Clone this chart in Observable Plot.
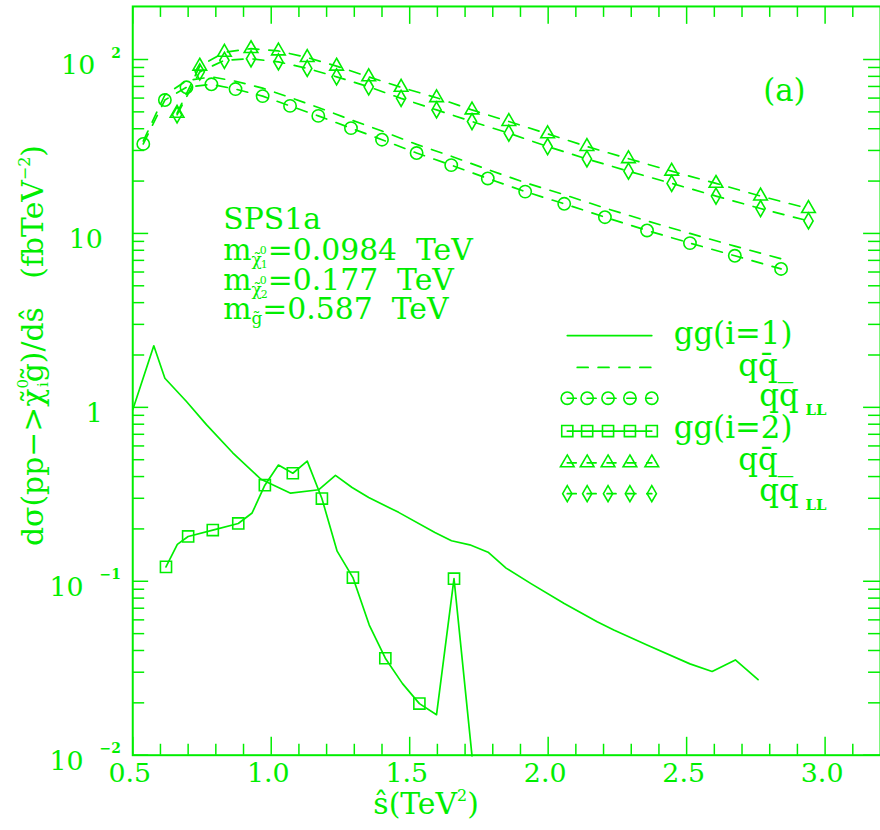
<!DOCTYPE html>
<html><head><meta charset="utf-8">
<script src="https://cdn.jsdelivr.net/npm/d3@7"></script>
<script src="https://cdn.jsdelivr.net/npm/@observablehq/plot@0.6"></script>
<style>html,body{margin:0;padding:0;overflow:hidden;background:#fff}</style>
</head><body><div id="chart"></div>
<script>
// ---------------- data ----------------
// gg (i=1) : solid line
const gg1X = [0.500,0.576,0.616,0.694,0.766,0.861,0.963,1.070,1.172,1.232,1.292,1.352,1.460,1.591,1.651,1.717,1.783,1.848,1.938,2.058,2.177,2.237,2.357,2.512,2.592,2.676,2.758];
const gg1Y = [0.968,2.26,1.47,1.08,0.796,0.548,0.386,0.321,0.336,0.406,0.346,0.303,0.249,0.191,0.171,0.162,0.147,0.119,0.0969,0.0745,0.0585,0.0525,0.043,0.0335,0.0303,0.0353,0.0272];
// gg (i=2) : solid line with squares
const gg2X = [0.620,0.661,0.700,0.789,0.881,0.931,0.977,1.026,1.078,1.130,1.183,1.238,1.295,1.354,1.412,1.474,1.535,1.597,1.660,1.725];
const gg2Y = [0.121,0.163,0.181,0.197,0.215,0.247,0.357,0.466,0.418,0.491,0.299,0.149,0.105,0.056,0.0361,0.0258,0.0198,0.0171,0.1035,0.0099];
const gg2MarkX = [0.620,0.700,0.789,0.881,0.977,1.078,1.183,1.295,1.412,1.535,1.660];
const gg2MarkY = [0.121,0.181,0.197,0.215,0.357,0.418,0.299,0.105,0.0361,0.0198,0.1035];
// i=1 quark channels
const q1X = [0.538,0.616,0.694,0.784,0.871,0.969,1.068,1.170,1.288,1.400,1.525,1.650,1.782,1.917,2.058,2.205,2.357,2.512,2.674,2.841];
const qqbar1Y = [34.0,62.5,75.5,79.5,75.0,68.5,60.5,53.0,45.0,38.8,32.5,27.8,23.3,19.6,16.7,14.0,11.8,10.0,8.45,7.15];
const qqLL1Y  = [32.7,58.5,69.2,72.0,67.6,61.6,54.1,47.4,40.3,34.6,29.0,24.7,20.7,17.4,14.8,12.4,10.4,8.8,7.44,6.25];
// i=2 quark channels
const q2X = [0.660,0.742,0.831,0.927,1.026,1.130,1.236,1.352,1.469,1.597,1.725,1.858,1.998,2.140,2.290,2.446,2.606,2.767,2.940];
const qqbar2Y = [49.1,91.6,110,115.5,112,102.6,91.6,79.5,69.2,60.3,51.3,44.0,37.4,31.6,26.9,22.8,19.4,16.4,13.9];
const qqLL2Y  = [48.1,84.9,99,101,96.9,88.9,79.5,69.7,59.8,51.3,44.0,37.7,31.6,26.8,22.8,19.4,16.4,13.9,11.8];
// axes ticks & labels
const xMajor = [0.5,1.0,1.5,2.0,2.5,3.0];
const xTickLabels = ["0.5","1.0","1.5","2.0","2.5","3.0"];
const yMajor = [0.01,0.1,1,10,100];
const yTickLabels = ["10^−2","10^−1","1","10","10^2"];
const legendLabels = ["gg(i=1)","qq\u0304_","qq|LL","gg(i=2)","qq\u0304_","qq|LL"];

// ---------------- layout ----------------
const GREEN = "#00ee00";
const FONT = "DejaVu Serif";
const W = 885, H = 830, ML = 133, MR = 0, MT = 6, MB = 71;
const X0 = 0.5, X1 = 3.2, Y0 = 0.01, Y1 = Math.pow(10, 2.305);
const IW = W - ML - MR, IH = H - MT - MB;
const px2x = px => X0 + (px - ML) / IW * (X1 - X0);
const py2y = py => Math.pow(10, Math.log10(Y1) - (py - MT) / IH * Math.log10(Y1 / Y0));

const xMinor = d3.range(5, 33).map(i => i / 10).filter(v => !xMajor.some(m => Math.abs(m - v) < 1e-9) && v < X1);
const yMinor = [];
for (let d = -2; d <= 2; d++) for (let k = 2; k <= 9; k++) { const v = k * Math.pow(10, d); if (v < Y1 * 0.98) yMinor.push(v); }

const tick = {stroke: GREEN, strokeWidth: 1.5};
const line = {stroke: GREEN, strokeWidth: 1.7};
const DASH = "11,10";
const dotStyle = {stroke: GREEN, strokeWidth: 1.6, fill: "none"};
const R = {circle: 6.2, square: 6.3, triangle: 5.1, diamond: 4.9};

// rich text pieces: [text, size, baselineShift, dx, weight]
const RICH = {};
const ann = [];
function addText(key, parts, px, py, opts) { RICH[key] = parts; ann.push({key, x: px2x(px), y: py2y(py), ...opts}); }

addText("ytitle", [["dσ(pp−>",30,0],["χ\u0303",30,0],["0",15,-15,0],["i",15,5,-8],["g\u0303",30,0],[")/dŝ\u00a0\u00a0\u00a0(fbTeV",30,0],["−2",16,-13],[")",30,0]], 43, 347, {anchor: "middle", rotate: -90});
addText("xtitle", [["ŝ(TeV",30,0],["2",16,-13],[")",30,0]], 428, 818, {anchor: "middle"});
addText("sps", [["SPS1a",30,0]], 224, 230, {anchor: "start"});
addText("m1", [["m",30,0],["χ\u0303",17,5],["0",11,-6,-2],["1",11,8,-6],["=0.0984\u00a0\u00a0TeV",30,0]], 224, 261, {anchor: "start"});
addText("m2", [["m",30,0],["χ\u0303",17,5],["0",11,-6,-2],["2",11,8,-6],["=0.177\u00a0\u00a0TeV",30,0]], 224, 291, {anchor: "start"});
addText("m3", [["m",30,0],["g\u0303",17,5],["=0.587\u00a0\u00a0TeV",30,0]], 224, 320, {anchor: "start"});
addText("panel", [["(a)",31,0]], 767, 101, {anchor: "start"});

// legend
const rowY = [337, 369, 400, 433, 465, 496];
const textX = [677, 742, 763, 677, 742, 763];
const textBase = [345, 378, 408, 440, 472, 503];
legendLabels.forEach((lab, i) => {
  let parts;
  if (lab.includes("|")) { const [a, b] = lab.split("|"); parts = [[a,31,0],[b,15,9,7,"bold"]]; }
  else parts = [[lab,31,0]];
  addText("leg" + i, parts, textX[i], textBase[i], {anchor: "start"});
});
const mkX = [570, 590, 611, 633, 655].map(px2x);
const legSeg = (i, x0px) => ({x: [px2x(x0px), px2x(655)], y: [py2y(rowY[i]), py2y(rowY[i])]});
const legLine = (i, x0px, extra) => { const s = legSeg(i, x0px); return Plot.line(s.x, {x: s.x, y: s.y, ...line, ...extra}); };
const legDots = (i, sym, r) => Plot.dot(mkX, {x: mkX, y: mkX.map(() => py2y(rowY[i])), symbol: sym, r, ...dotStyle});

// tick label texts
xMajor.forEach((v, i) => { RICH["xt" + i] = [[xTickLabels[i],27,0]]; ann.push({key: "xt" + i, x: v, y: Y0, anchor: "middle", dx: -3, dy: 27}); });
yMajor.forEach((v, i) => {
  const lab = yTickLabels[i];
  if (lab.includes("^")) { const [b, e] = lab.split("^"); RICH["yt" + i] = [[b,27,0],[e,14,-17,16,"bold"]]; ann.push({key: "yt" + i, x: X0, y: v, anchor: "end", dx: -12, dy: 15}); }
  else { RICH["yt" + i] = [[lab,27,0]]; ann.push({key: "yt" + i, x: X0, y: v, anchor: "end", dx: -30, dy: 15}); }
});

// one text mark per (anchor, dx, dy, rotate) group
const groups = d3.groups(ann, t => `${t.anchor}|${t.dx || 0}|${t.dy || 0}|${t.rotate || 0}`);
const textMarks = groups.map(([k, d]) => {
  const [a, dx, dy, rot] = k.split("|");
  return Plot.text(d, {x: "x", y: "y", text: "key", textAnchor: a, lineAnchor: "bottom",
    rotate: +rot, dx: +dx, dy: +dy, fill: GREEN, fontFamily: FONT, fontSize: 30});
});

const plot = Plot.plot({
  width: W, height: H,
  marginLeft: ML, marginRight: MR, marginTop: MT, marginBottom: MB,
  x: {domain: [X0, X1], axis: null},
  y: {type: "log", domain: [Y0, Y1], axis: null},
  style: {fontFamily: FONT, background: "white", overflow: "visible"},
  marks: [
    // ticks (inward)
    Plot.tickX(xMinor, {x: d => d, insetTop: IH - 11, ...tick}),
    Plot.tickX(xMajor, {x: d => d, insetTop: IH - 18, ...tick}),
    Plot.tickX(xMinor, {x: d => d, insetBottom: IH - 11, ...tick}),
    Plot.tickX(xMajor, {x: d => d, insetBottom: IH - 18, ...tick}),
    Plot.tickY(yMinor, {y: d => d, insetRight: IW - 12, ...tick}),
    Plot.tickY(yMajor, {y: d => d, insetRight: IW - 16, ...tick}),
    Plot.tickY(yMinor, {y: d => d, insetLeft: IW - 12, ...tick}),
    Plot.tickY(yMajor, {y: d => d, insetLeft: IW - 17, ...tick}),
    Plot.frame({stroke: GREEN, strokeWidth: 2}),
    // series
    Plot.line(gg1X, {x: gg1X, y: gg1Y, ...line}),
    Plot.line(gg2X, {x: gg2X, y: gg2Y, ...line}),
    Plot.dot(gg2MarkX, {x: gg2MarkX, y: gg2MarkY, symbol: "square", r: R.square, ...dotStyle}),
    Plot.line(q1X, {x: q1X, y: qqbar1Y, ...line, strokeDasharray: DASH}),
    Plot.line(q1X, {x: q1X, y: qqLL1Y, ...line, strokeDasharray: DASH}),
    Plot.dot(q1X, {x: q1X, y: qqLL1Y, symbol: "circle", r: R.circle, ...dotStyle}),
    Plot.line(q2X, {x: q2X, y: qqbar2Y, ...line, strokeDasharray: DASH}),
    Plot.dot(q2X, {x: q2X, y: qqbar2Y, symbol: "triangle", r: R.triangle, ...dotStyle}),
    Plot.line(q2X, {x: q2X, y: qqLL2Y, ...line, strokeDasharray: DASH}),
    Plot.dot(q2X, {x: q2X, y: qqLL2Y, symbol: "diamond", r: R.diamond, ...dotStyle}),
    // legend samples
    legLine(0, 570),
    legLine(1, 580, {strokeDasharray: DASH}),
    legLine(2, 570, {strokeDasharray: "9,11"}), legDots(2, "circle", R.circle),
    legLine(3, 570), legDots(3, "square", R.square),
    legLine(4, 570, {strokeDasharray: "9,11"}), legDots(4, "triangle", R.triangle),
    legLine(5, 570, {strokeDasharray: "9,11"}), legDots(5, "diamond", R.diamond),
    ...textMarks
  ]
});

// turn key texts into rich text with tspans
const NS = "http://www.w3.org/2000/svg";
d3.select(plot).selectAll("text").each(function() {
  const parts = RICH[this.textContent];
  if (!parts) return;
  this.textContent = "";
  let shift = 0;
  for (const [t, size, s = 0, dx = 0, weight] of parts) {
    const ts = document.createElementNS(NS, "tspan");
    ts.textContent = t;
    ts.setAttribute("font-size", size);
    if (s !== shift) ts.setAttribute("dy", s - shift);
    if (dx) ts.setAttribute("dx", dx);
    if (weight) ts.setAttribute("font-weight", weight);
    this.appendChild(ts);
    shift = s;
  }
});
document.getElementById("chart").appendChild(plot);
</script>
</body></html>
